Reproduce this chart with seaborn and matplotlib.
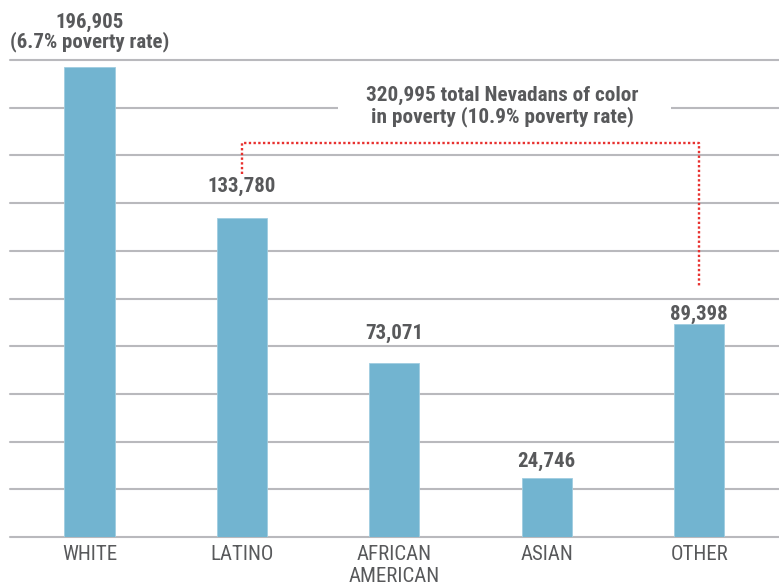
import numpy as np
import pandas as pd
import matplotlib
matplotlib.use("Agg")
import matplotlib.pyplot as plt
import seaborn as sns
from matplotlib.patches import Rectangle

# --- DATA ---
categories = ["WHITE", "LATINO", "AFRICAN\nAMERICAN", "ASIAN", "OTHER"]
people_in_poverty = [196905, 133780, 73071, 24746, 89398]
value_labels = ["196,905\n(6.7% poverty rate)", "133,780", "73,071", "24,746", "89,398"]
callout_text = "320,995 total Nevadans of color\nin poverty (10.9% poverty rate)"

BAR_COLOR = "#72b4d0"
TEXT_COLOR = "#58595b"
GRID_COLOR = "#b9b9bd"
RED = "#e8312f"

sns.set_style("white")
plt.rcParams["font.family"] = ["Roboto Condensed", "DejaVu Sans"]

df = pd.DataFrame({"group": categories, "count": people_in_poverty})

fig = plt.figure(figsize=(7.79, 5.86), dpi=100)
ax = fig.add_axes([10 / 779, 49 / 586, 769 / 779, 477 / 586])

sns.barplot(data=df, x="group", y="count", color=BAR_COLOR, saturation=1,
            width=0.33, edgecolor="#9fcde0", linewidth=0.6, ax=ax)

ax.set_ylim(0, 200000)
ax.set_xlim(-0.522, 4.524)
ax.set_yticks(np.arange(0, 200001, 20000))
ax.set_axisbelow(True)
ax.yaxis.grid(True, color=GRID_COLOR, linewidth=1.5)
for gl in ax.get_ygridlines():
    gl.set_clip_on(False)
ax.tick_params(axis="y", left=False, labelleft=False)
ax.tick_params(axis="x", length=0, pad=6, labelsize=15, labelcolor=TEXT_COLOR)
ax.set_xlabel("")
ax.set_ylabel("")
for s in ax.spines.values():
    s.set_visible(False)

# value labels (gap above bar in px, hand placed like the original)
gaps_px = [20, 26, 24, 11, 4]
for i, (v, lab) in enumerate(zip(people_in_poverty, value_labels)):
    ax.annotate(lab, xy=(i, v), xytext=(0, gaps_px[i] * 0.72), textcoords="offset points",
                ha="center", va="baseline", fontsize=15, fontweight="bold",
                color=TEXT_COLOR, linespacing=0.97, multialignment="center",
                annotation_clip=False)

# callout box over the gridline
ax.add_patch(Rectangle((1.627, 172000), 3.814 - 1.627, 16000, facecolor="white",
                       edgecolor="none", zorder=1))
ax.text(2.707, 180500, callout_text, ha="center", va="center", fontsize=15.3,
        fontweight="bold", color=TEXT_COLOR, linespacing=1.13, zorder=3)

# dotted red bracket linking Latino .. Other
ax.plot([1, 1, 4, 4], [152400, 165200, 165200, 104800], color=RED, lw=1.7,
        linestyle=(0, (1, 1)), zorder=3, clip_on=False)

fig.savefig("out.png", dpi=100)
